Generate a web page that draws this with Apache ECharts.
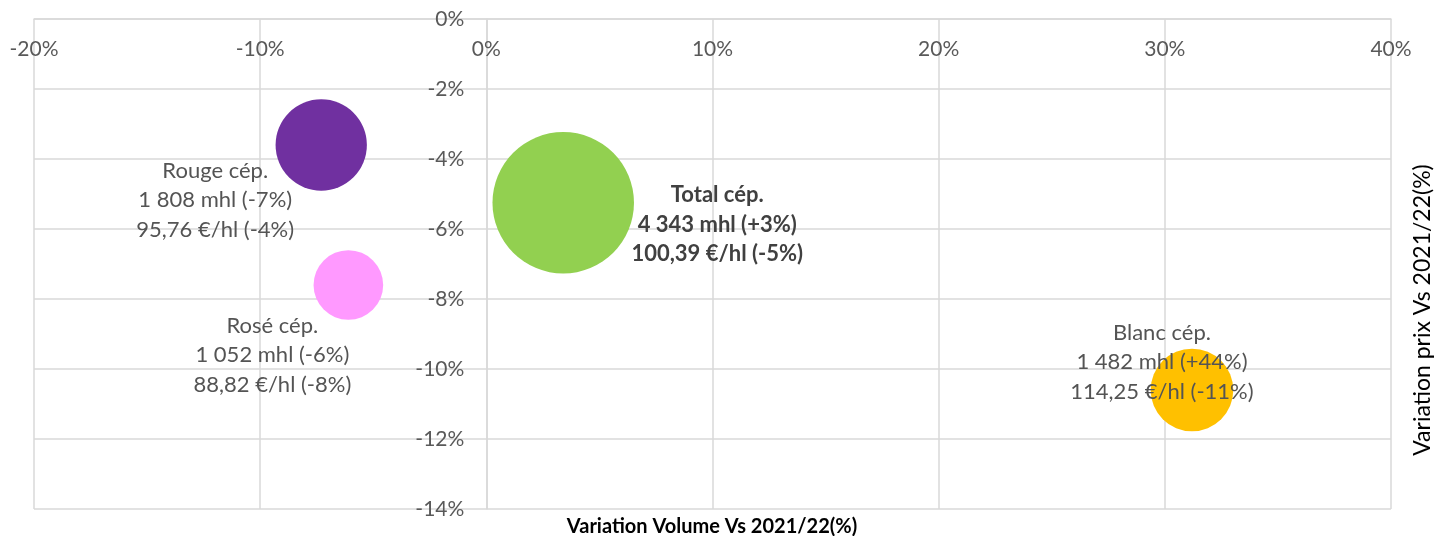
<!DOCTYPE html>
<html>
<head>
<meta charset="utf-8">
<script src="https://cdn.jsdelivr.net/npm/echarts@6/dist/echarts.min.js"></script>
<style>
  html, body { margin: 0; padding: 0; background: #fff; }
  #chart { width: 1437px; height: 536px; }
</style>
</head>
<body>
<div id="chart"></div>
<script>
// données
var names = ['Rouge cép.', 'Rosé cép.', 'Total cép.', 'Blanc cép.'];
var volVar = [-7.3, -6.1, 3.4, 31.2];      // variation volume (%) (position x)
var prixVar = [-3.6, -7.6, -5.25, -10.6];  // variation prix (%) (position y)
var volumes = [1808, 1052, 4343, 1482];    // mhl, taille des bulles
var volTxt = ['1 808 mhl (-7%)', '1 052 mhl (-6%)', '4 343 mhl (+3%)', '1 482 mhl (+44%)'];
var prixTxt = ['95,76 €/hl (-4%)', '88,82 €/hl (-8%)', '100,39 €/hl (-5%)', '114,25 €/hl (-11%)'];
var colors = ['#7030A0', '#FF99FF', '#92D050', '#FFC000'];
// position des étiquettes par rapport aux bulles
var labelOffsets = [[-106, 55], [-76, 70], [154, 22], [-30, -28]];

var xMin = -20, xMax = 40;
var yMin = -14, yMax = 0;

var font = 'Lato, "Open Sans", sans-serif';
var gridLeft = 34, gridRight = 46;
var gridW = 1437 - gridLeft - gridRight;
// l'axe Y est placé sur x = 0 (comme dans Excel)
var yAxisOffset = -(0 - xMin) / (xMax - xMin) * gridW;

var myChart = echarts.init(document.getElementById('chart'));

var seriesData = names.map(function (n, i) {
  return {
    name: n,
    value: [volVar[i], prixVar[i], volumes[i]],
    itemStyle: { color: colors[i], opacity: 1 },
    label: {
      show: true,
      position: 'inside',
      offset: labelOffsets[i],
      align: 'center',
      verticalAlign: 'middle',
      formatter: n + '\n' + volTxt[i] + '\n' + prixTxt[i],
      color: i === 2 ? '#404040' : '#545454',
      fontWeight: i === 2 ? 'bold' : 'normal',
      fontSize: 22,
      lineHeight: 29.5,
      fontFamily: font
    }
  };
});

var option = {
  animation: false,
  grid: {
    left: gridLeft,
    right: gridRight,
    top: 19,
    bottom: 27,
    containLabel: false,
    outerBoundsMode: 'none'
  },
  xAxis: {
    type: 'value',
    position: 'top',
    min: xMin,
    max: xMax,
    interval: 10,
    axisLine: { show: true, onZero: false, lineStyle: { color: '#d9d9d9', width: 1.5 } },
    axisTick: { show: false },
    splitLine: { show: true, lineStyle: { color: '#d9d9d9', width: 1.5 } },
    axisLabel: {
      inside: true,
      color: '#595959',
      fontSize: 21,
      fontFamily: font,
      margin: 20,
      formatter: '{value}%'
    }
  },
  yAxis: {
    type: 'value',
    position: 'left',
    offset: yAxisOffset,
    min: yMin,
    max: yMax,
    interval: 2,
    axisLine: { show: true, onZero: false, lineStyle: { color: '#d9d9d9', width: 1.5 } },
    axisTick: { show: false },
    splitLine: { show: true, lineStyle: { color: '#d9d9d9', width: 1.5 } },
    axisLabel: {
      color: '#595959',
      fontSize: 21,
      fontFamily: font,
      margin: 22,
      formatter: '{value}%'
    }
  },
  graphic: [
    {
      type: 'text',
      x: 712,
      y: 527,
      style: {
        text: 'Variation Volume Vs 2021/22(%)',
        fill: '#000',
        font: 'bold 20px ' + font,
        align: 'center',
        verticalAlign: 'middle'
      }
    },
    {
      type: 'text',
      x: 1423,
      y: 310,
      rotation: Math.PI / 2,
      style: {
        text: 'Variation prix Vs 2021/22(%)',
        fill: '#000',
        font: '23px ' + font,
        align: 'center',
        verticalAlign: 'middle'
      }
    }
  ],
  series: [
    {
      type: 'scatter',
      symbolSize: function (val) { return Math.sqrt(val[2]) * 2.147; },
      data: seriesData
    }
  ]
};

myChart.setOption(option);
</script>
</body>
</html>
